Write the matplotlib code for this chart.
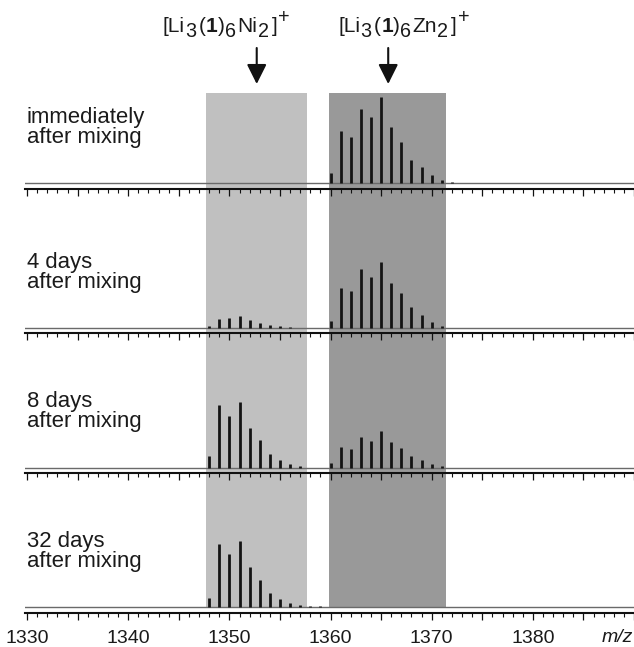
import matplotlib
matplotlib.use("Agg")
import matplotlib.pyplot as plt
from matplotlib.patches import FancyArrowPatch
from matplotlib.ticker import MultipleLocator, FuncFormatter
from matplotlib.transforms import blended_transform_factory

plt.rcParams["font.family"] = ["Liberation Sans", "DejaVu Sans"]

# ---- data -------------------------------------------------------------
# m/z of the isotope peaks of the two complexes
ni_mz = [1348, 1349, 1350, 1351, 1352, 1353, 1354, 1355, 1356, 1357, 1358, 1359]
zn_mz = [1360, 1361, 1362, 1363, 1364, 1365, 1366, 1367, 1368, 1369, 1370, 1371, 1372]

# relative intensities (% of the base peak of the first spectrum)
ni_immediate = [0, 0, 0, 0, 0, 0, 0, 0, 0, 0, 0, 0]
ni_4d = [2.0, 9.7, 10.5, 13.6, 9.0, 5.8, 3.1, 2.0, 0.8, 0, 0, 0]
ni_8d = [12.8, 72.1, 60.1, 75.6, 45.7, 31.4, 15.5, 9.0, 3.5, 2.0, 0, 0]
ni_32d = [10.8, 72.9, 61.3, 76.7, 46.5, 31.7, 16.3, 9.7, 4.7, 2.7, 1.5, 1.2]

zn_immediate = [11.6, 60.0, 53.0, 86.0, 76.3, 100.0, 64.7, 47.2, 27.1, 18.6, 8.8, 3.8, 1.2]
zn_4d = [7.8, 46.5, 42.7, 68.3, 59.3, 75.9, 51.5, 39.9, 23.3, 14.0, 6.2, 2.3, 0]
zn_8d = [4.7, 24.4, 21.3, 36.0, 31.0, 42.7, 29.1, 22.4, 13.6, 9.0, 3.8, 1.2, 0]
zn_32d = [0, 0, 0, 0, 0, 0, 0, 0, 0, 0, 0, 0, 0]

panel_labels = [("immediately", "after mixing"),
                ("4 days", "after mixing"),
                ("8 days", "after mixing"),
                ("32 days", "after mixing")]
ni_series = [ni_immediate, ni_4d, ni_8d, ni_32d]
zn_series = [zn_immediate, zn_4d, zn_8d, zn_32d]

ni_window = (1347.7, 1357.66)
zn_window = (1359.8, 1371.4)
ni_arrow_mz = 1352.7
zn_arrow_mz = 1365.7

x_range = (1329.8, 1390.0)

# ---- layout (pixels) --------------------------------------------------
W, H, DPI = 634, 647, 100
fig = plt.figure(figsize=(W / DPI, H / DPI), dpi=DPI)

left_px = 25.1
axis_lines_px = [188.5, 333.0, 473.0, 612.5]   # black axis line of each panel
panel_h_px = 130.0
px_per_unit = 0.86
gap_px = 5.5                                    # baseline above the axis line
y_lo = -gap_px / px_per_unit
y_hi = y_lo + panel_h_px / px_per_unit


def fx(px):
    return px / W


def fy(py):
    return 1 - py / H


# shaded windows behind all spectra
shade_top, shade_bot = 92.7, 607.0
bg = fig.add_axes([fx(left_px), fy(shade_bot), 1 - fx(left_px),
                   (shade_bot - shade_top) / H], zorder=0)
bg.set_xlim(*x_range)
bg.set_ylim(0, 1)
bg.axis("off")
bg.axvspan(*ni_window, color="#c0c0c0", lw=0)
bg.axvspan(*zn_window, color="#999999", lw=0)

for i, line_px in enumerate(axis_lines_px):
    ax = fig.add_axes([fx(left_px), fy(line_px), 1 - fx(left_px),
                       panel_h_px / H], zorder=2)
    ax.patch.set_alpha(0)
    ax.set_xlim(*x_range)
    ax.set_ylim(y_lo, y_hi)
    for s in ("top", "left", "right"):
        ax.spines[s].set_visible(False)
    ax.spines["bottom"].set_linewidth(1.5)
    ax.spines["bottom"].set_color("#111111")
    ax.yaxis.set_visible(False)
    ax.xaxis.set_major_locator(MultipleLocator(5))
    ax.xaxis.set_minor_locator(MultipleLocator(1))
    ax.tick_params(axis="x", which="major", direction="out", length=5.3,
                   width=0.9, color="#111111", labelsize=14, pad=7.5,
                   labelcolor="#1a1a1a")
    ax.tick_params(axis="x", which="minor", direction="out", length=2.6,
                   width=0.8, color="#111111")
    if i < 3:
        ax.tick_params(axis="x", which="both", labelbottom=False)
    else:
        ax.xaxis.set_major_formatter(
            FuncFormatter(lambda v, p: f"{v:.0f}" if v % 10 == 0 and v < 1385 else ""))

    # spectrum baseline
    ax.axhline(0, color="#6a6a6a", lw=1.0, zorder=1)

    # isotope peaks
    for mz, inten in ((ni_mz, ni_series[i]), (zn_mz, zn_series[i])):
        pts = [(m, v) for m, v in zip(mz, inten) if v > 0]
        if pts:
            ax.vlines([p[0] for p in pts], 0, [p[1] for p in pts],
                      color="#141414", lw=2.0, zorder=3)

    # sample label
    base_px = line_px - gap_px
    l1, l2 = panel_labels[i]
    fig.text(fx(27.0), fy(base_px - 60.0), l1, fontsize=15.9,
             color="#1a1a1a", va="baseline", ha="left")
    fig.text(fx(27.0), fy(base_px - 40.0), l2, fontsize=15.9,
             color="#1a1a1a", va="baseline", ha="left")

fig.text(fx(633), fy(638), "m/z", fontsize=14, style="italic",
         va="center", ha="right", color="#1a1a1a")

# arrows pointing at the two isotope envelopes
arrow_tf = blended_transform_factory(bg.transData, fig.transFigure)
for mz in (ni_arrow_mz, zn_arrow_mz):
    fig.add_artist(FancyArrowPatch(
        (mz, fy(48)), (mz, fy(84)), transform=arrow_tf,
        arrowstyle="-|>,head_length=0.8,head_width=0.4",
        mutation_scale=15, lw=1.5, color="#111111", shrinkA=0, shrinkB=0))

# formula labels built piece by piece (subscripts nearly full size)
renderer = fig.canvas.get_renderer()


def formula(x_px, base_px, metal, size=15.0):
    pieces = [("[Li", 0, "normal", 1.0, 0),
              ("3", 5, "normal", 0.95, 0),
              ("(", 0, "normal", 1.0, 3),
              ("1", 0, "bold", 1.0, 0),
              (")", 0, "normal", 1.0, 0),
              ("6", 5, "normal", 0.95, 0),
              (metal, 0, "normal", 1.0, 2),
              ("2", 5, "normal", 0.95, 0),
              ("]", 0, "normal", 1.0, 3),
              ("+", -9, "normal", 0.95, 1)]
    x = x_px
    for txt, dy, wt, sc, gap in pieces:
        x += gap
        t = fig.text(fx(x), fy(base_px + dy), txt, fontsize=size * sc,
                     fontweight=wt, va="baseline", ha="left", color="#1a1a1a")
        x = t.get_window_extent(renderer).x1


formula(163, 32, "Ni")
formula(338, 32, "Zn")

fig.savefig("out.png", dpi=DPI)
